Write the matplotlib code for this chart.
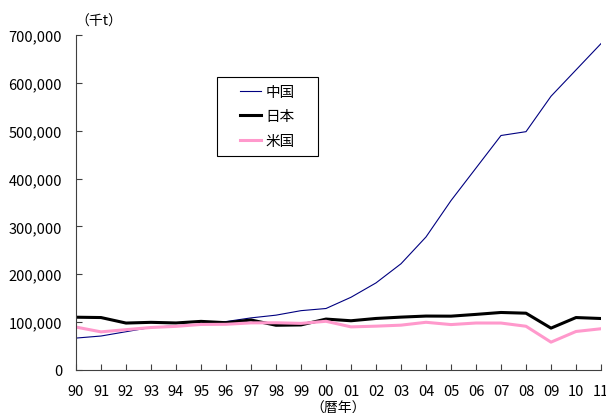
import matplotlib
matplotlib.use("Agg")
import matplotlib.pyplot as plt
from matplotlib.patches import Rectangle
from matplotlib.ticker import FuncFormatter

plt.rcParams['font.family'] = ['Noto Sans CJK JP', 'DejaVu Sans']

# 粗鋼生産量 (千t), 1990-2011
years = ['90', '91', '92', '93', '94', '95', '96', '97', '98', '99', '00',
         '01', '02', '03', '04', '05', '06', '07', '08', '09', '10', '11']
china = [66700, 71000, 80000, 89000, 92600, 95400, 101200, 108900, 114600, 124000, 128500,
         152000, 182000, 222000, 278000, 354000, 422000, 490000, 498000, 572000, 627000, 682000]
japan = [110300, 109600, 98100, 99600, 98300, 101600, 98800, 104500, 93500, 94200, 106400,
         102900, 107700, 110500, 112700, 112500, 116200, 120200, 118700, 87500, 109600, 107600]
usa = [89700, 79700, 84300, 88800, 91200, 95200, 95500, 98500, 98700, 97400, 101800,
       90100, 91600, 93700, 99700, 94900, 98200, 98100, 91400, 58200, 80500, 86200]

fig = plt.figure(figsize=(6.06, 4.14), dpi=100)
ax = fig.add_axes([76 / 606, 43 / 414, 525 / 606, 335 / 414])

x = range(len(years))
ax.plot(x, china, color='#000080', lw=0.8, label='中国')
ax.plot(x, japan, color='black', lw=2.2, label='日本')
ax.plot(x, usa, color='#ff99cc', lw=2.2, label='米国')

ax.set_xlim(0, len(years) - 1)
ax.set_ylim(0, 700000)
ax.set_xticks(list(x))
ax.set_xticklabels(years)
ax.set_yticks(range(0, 700001, 100000))
ax.yaxis.set_major_formatter(FuncFormatter(lambda v, p: f'{int(v):,}'))

for s in ['top', 'right']:
    ax.spines[s].set_visible(False)
ax.spines['left'].set_color('#404040')
ax.spines['bottom'].set_color('#404040')
ax.tick_params(direction='in', length=4, color='#404040', labelsize=10.5)
ax.tick_params(axis='y', pad=10)
ax.tick_params(axis='x', pad=10)

fig.text(75 / 606, 1 - 22 / 414, '（千t）', fontsize=10, ha='left', va='center')
fig.text(338 / 606, 1 - 409 / 414, '（暦年）', fontsize=10, ha='center', va='center')

# legend box drawn separately so it can be wider than its contents
box = Rectangle((141 / 525, 214 / 335), 101 / 525, 79 / 335, transform=ax.transAxes,
                fill=False, edgecolor='black', lw=0.8, zorder=5)
ax.add_patch(box)
ax.legend(loc='center', bbox_to_anchor=(191.5 / 525, 253.5 / 335), frameon=False,
          borderaxespad=0, borderpad=0, fontsize=10.5, handlelength=1.4,
          handletextpad=0.35, labelspacing=0.7)

fig.savefig('out.png', dpi=100)
